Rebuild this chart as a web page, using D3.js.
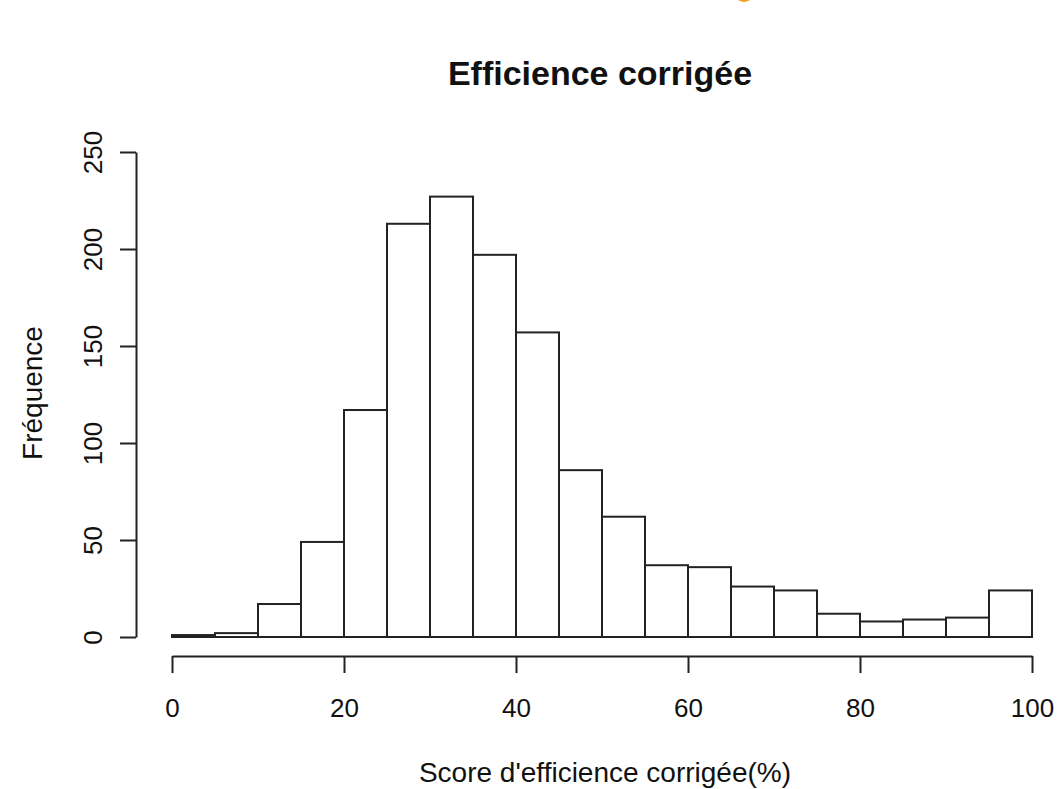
<!DOCTYPE html>
<html>
<head>
<meta charset="utf-8">
<script src="https://cdn.jsdelivr.net/npm/d3@7"></script>
<style>
  body { margin: 0; background: #fff; }
  text { font-family: "Liberation Sans", Arial, sans-serif; fill: #111; }
</style>
</head>
<body>
<script>
// histogram bins (5-point wide) and counts
const binStarts = [0, 5, 10, 15, 20, 25, 30, 35, 40, 45, 50, 55, 60, 65, 70, 75, 80, 85, 90, 95];
const counts    = [1, 2, 17, 49, 117, 213, 227, 197, 157, 86, 62, 37, 36, 26, 24, 12, 8, 9, 10, 24];
const binWidth = 5;
const xTicks = [0, 20, 40, 60, 80, 100];
const yTicks = [0, 50, 100, 150, 200, 250];

const width = 1058, height = 789;

const x = d3.scaleLinear().domain([0, 100]).range([172, 1032]);
const y = d3.scaleLinear().domain([0, 250]).range([637, 152]);

const svg = d3.select("body").append("svg")
    .attr("width", width)
    .attr("height", height);

// leftover orange bit of a cropped heading at the top edge
svg.append("ellipse")
    .attr("cx", 744).attr("cy", -3)
    .attr("rx", 7).attr("ry", 5)
    .attr("fill", "#f0a020");

// bars
svg.append("g")
    .selectAll("rect")
    .data(binStarts)
    .join("rect")
    .attr("x", d => x(d))
    .attr("y", (d, i) => y(counts[i]))
    .attr("width", d => x(d + binWidth) - x(d))
    .attr("height", (d, i) => y(0) - y(counts[i]))
    .attr("fill", "#fff")
    .attr("stroke", "#222")
    .attr("stroke-width", 2);

// x axis
const xAxis = svg.append("g")
    .attr("transform", "translate(0,656)")
    .call(d3.axisBottom(x).tickValues(xTicks).tickSize(17).tickSizeOuter(0));
xAxis.select(".domain").attr("stroke", "#222").attr("stroke-width", 2);
xAxis.selectAll(".tick line").attr("stroke", "#222").attr("stroke-width", 2);
xAxis.selectAll(".tick text")
    .attr("y", 61).attr("dy", null)
    .style("font-size", "26px")
    .style("font-family", "Liberation Sans, Arial, sans-serif")
    .attr("fill", "#111");

// y axis
const yAxis = svg.append("g")
    .attr("transform", "translate(136,0)")
    .call(d3.axisLeft(y).tickValues(yTicks).tickSize(16).tickSizeOuter(0));
yAxis.select(".domain").attr("stroke", "#222").attr("stroke-width", 2);
yAxis.selectAll(".tick line").attr("stroke", "#222").attr("stroke-width", 2);
yAxis.selectAll(".tick text")
    .attr("x", null).attr("dy", null)
    .attr("text-anchor", "middle")
    .attr("transform", "translate(-34,0) rotate(-90)")
    .style("font-size", "26px")
    .style("font-family", "Liberation Sans, Arial, sans-serif")
    .attr("fill", "#111");

// title
svg.append("text")
    .attr("x", 600).attr("y", 85)
    .attr("text-anchor", "middle")
    .style("font-size", "34px")
    .style("font-weight", "bold")
    .text("Efficience corrigée");

// axis labels
svg.append("text")
    .attr("x", 605).attr("y", 782)
    .attr("text-anchor", "middle")
    .style("font-size", "28px")
    .text("Score d'efficience corrigée(%)");

svg.append("text")
    .attr("transform", "translate(42,393) rotate(-90)")
    .attr("text-anchor", "middle")
    .style("font-size", "28px")
    .text("Fréquence");
</script>
</body>
</html>
